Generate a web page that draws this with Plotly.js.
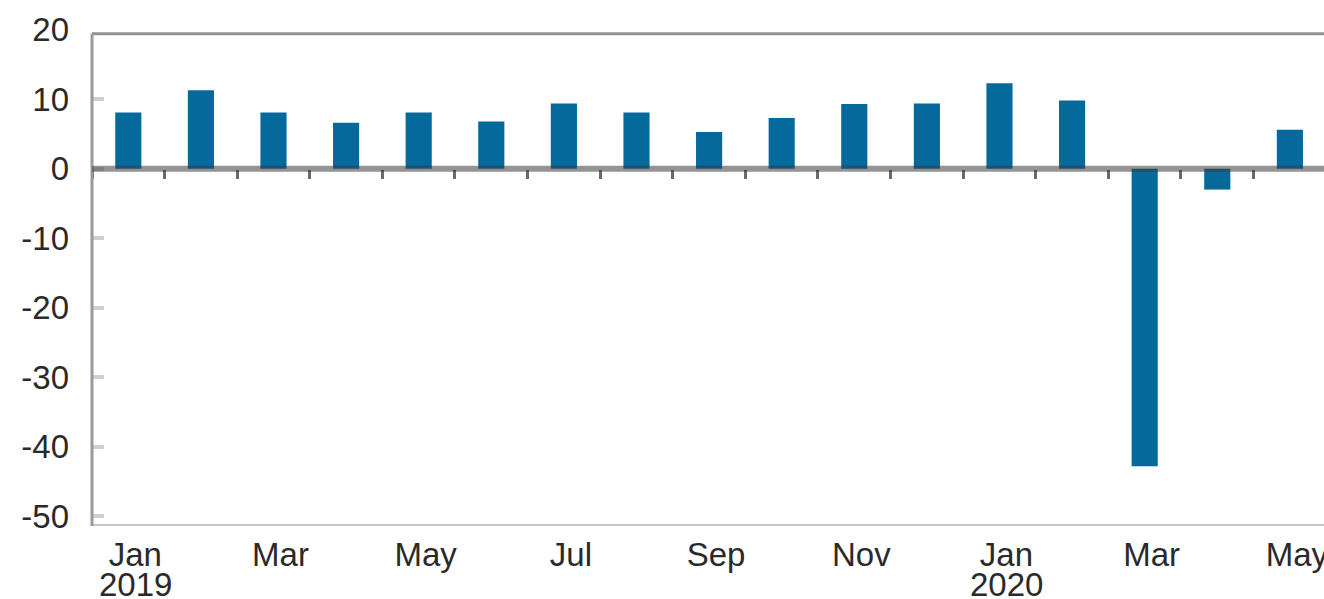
<!DOCTYPE html>
<html>
<head>
<meta charset="utf-8">
<script src="https://cdn.plot.ly/plotly-3.0.1.min.js"></script>
<style>html,body{margin:0;padding:0;background:#fff;}#chart{width:1324px;height:599px;}</style>
</head>
<body>
<div id="chart"></div>
<script>
const months = ["Jan 2019","Feb 2019","Mar 2019","Apr 2019","May 2019","Jun 2019","Jul 2019","Aug 2019","Sep 2019","Oct 2019","Nov 2019","Dec 2019","Jan 2020","Feb 2020","Mar 2020","Apr 2020","May 2020"];
const values = [8.1, 11.3, 8.1, 6.6, 8.1, 6.8, 9.4, 8.1, 5.3, 7.3, 9.3, 9.4, 12.3, 9.8, -42.8, -3.0, 5.6];
const tickMonths = ["Jan","Mar","May","Jul","Sep","Nov","Jan","Mar","May"];
const tickIdx = [0, 2, 4, 6, 8, 10, 12, 14, 16];
const yearLabels = ["2019","2020"];
const yearIdx = [0, 12];
const yTicks = [20, 10, 0, -10, -20, -30, -40, -50];

const xIdx = months.map((m, i) => i);
const boundaries = months.map((m, i) => i - 0.5).concat([months.length - 0.5]);

const yMin = -51.4, yMax = 20.1, yTop = 19.4;
const font = {family: "Liberation Sans, Arial, sans-serif", size: 33, color: "#2a2a2a"};

const trace = {
  type: "bar",
  x: xIdx,
  y: values,
  width: 0.36,
  marker: {color: "#05699c", line: {width: 0}},
  hoverinfo: "skip"
};

const layout = {
  width: 1324, height: 599,
  margin: {l: 92, r: 0, t: 29, b: 73, pad: 0},
  paper_bgcolor: "#fff", plot_bgcolor: "#fff",
  showlegend: false,
  font: font,
  xaxis: {
    range: [-0.5, 16.47],
    tickvals: tickIdx,
    ticktext: tickMonths,
    ticks: "",
    showgrid: false, zeroline: false, showline: false,
    tickfont: font,
    ticklabelshift: 7,
    ticklabelstandoff: 6,
    ticklabeloverflow: "allow",
    fixedrange: true
  },
  xaxis2: {
    overlaying: "x",
    matches: "x",
    anchor: "free",
    position: (0 - yMin) / (yMax - yMin),
    side: "bottom",
    tickvals: boundaries,
    ticks: "outside",
    ticklen: 9, tickwidth: 3, tickcolor: "#6a6a6a",
    showticklabels: false,
    showgrid: false, zeroline: false, showline: false
  },
  yaxis: {
    range: [yMin, yMax],
    tickvals: yTicks,
    ticktext: yTicks.map(String),
    ticks: "inside", ticklen: 12, tickwidth: 4, tickcolor: "#cfcfcf",
    showgrid: false, zeroline: false, showline: false,
    tickfont: font,
    ticklabelstandoff: 22,
    fixedrange: true
  },
  shapes: [
    {type: "line", xref: "paper", yref: "y", x0: 0, x1: 1, y0: yTop, y1: yTop, line: {color: "#919191", width: 3}, layer: "above"},
    {type: "line", xref: "paper", yref: "y", x0: 0, x1: 1, y0: yMin, y1: yMin, line: {color: "#c8c8c8", width: 4}, layer: "above"},
    {type: "line", xref: "paper", yref: "y", x0: 0, x1: 0, y0: yMin, y1: yTop, line: {color: "#9a9a9a", width: 3}, layer: "above"},
    {type: "line", xref: "paper", yref: "y", x0: 0, x1: 1, y0: 0, y1: 0, line: {color: "rgba(60,60,60,0.55)", width: 6}, layer: "above"}
  ],
  annotations: yearLabels.map((t, k) => ({
    text: t, xref: "x", yref: "paper", x: yearIdx[k], y: 0,
    yanchor: "top", xanchor: "center", yshift: -38, xshift: 7,
    showarrow: false, font: font
  }))
};

const trace2 = {type: "scatter", x: [0], y: [0], xaxis: "x2", mode: "markers", marker: {opacity: 0}, hoverinfo: "skip"};

Plotly.newPlot("chart", [trace, trace2], layout, {staticPlot: true, displayModeBar: false});
</script>
</body>
</html>
